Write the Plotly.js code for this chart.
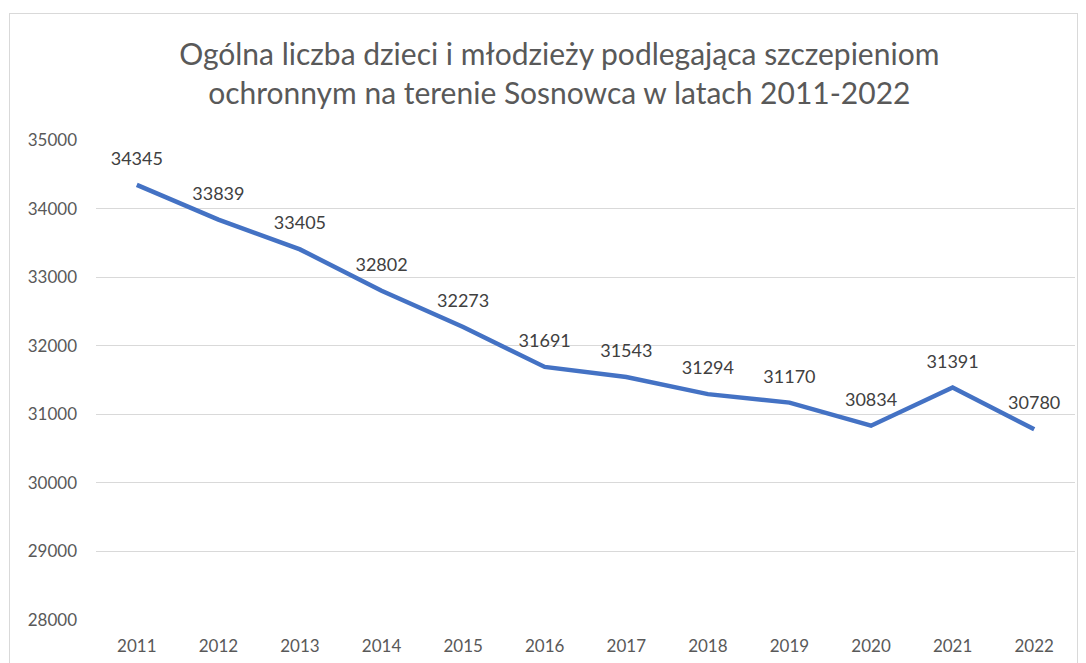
<!DOCTYPE html>
<html><head><meta charset="utf-8">
<script src="https://cdn.plot.ly/plotly-3.0.1.min.js"></script>
<style>html,body{margin:0;padding:0;background:#fff;}
#frame{position:absolute;left:9px;top:13px;width:1067px;height:700px;border:1px solid #d9d9d9;pointer-events:none;}
#chart{position:absolute;left:0;top:0;width:1086px;height:663px;}</style>
</head><body>
<div id="chart"></div><div id="frame"></div>
<script>
const years = ['2011','2012','2013','2014','2015','2016','2017','2018','2019','2020','2021','2022'];
const counts = [34345,33839,33405,32802,32273,31691,31543,31294,31170,30834,31391,30780];
const yTicks = [28000,29000,30000,31000,32000,33000,34000,35000];
const titleText = 'Ogólna liczba dzieci i młodzieży podlegająca szczepieniom<br>ochronnym na terenie Sosnowca w latach 2011-2022';
const F = 'Lato, "Open Sans", sans-serif';
Plotly.newPlot('chart', [{
  x: years, y: counts, type: 'scatter', mode: 'lines+markers+text',
  line: {color: '#4472C4', width: 4.5},
  marker: {size: 23, color: 'rgba(0,0,0,0)'},
  text: counts.map(String), textposition: 'top center',
  textfont: {family: F, size: 18, color: '#404040'},
  cliponaxis: false, hoverinfo: 'none'
}], {
  width: 1086, height: 663,
  margin: {l: 96, r: 11, t: 140, b: 43},
  paper_bgcolor: 'rgba(0,0,0,0)', plot_bgcolor: 'rgba(0,0,0,0)',
  showlegend: false,
  title: {text: titleText, font: {family: F, size: 30, color: '#595959'}, x: 0.515, xanchor: 'center', y: 0.902, yanchor: 'top'},
  xaxis: {type: 'category', range: [-0.5, 11.5], showgrid: false, zeroline: false, showline: false, ticks: '',
    tickfont: {family: F, size: 17, color: '#595959'}, ticklabelstandoff: 14},
  yaxis: {range: [28000, 35000], tickvals: yTicks, ticktext: yTicks.map(String), showgrid: true, gridcolor: '#d9d9d9', gridwidth: 1,
    zeroline: false, showline: false, ticks: '', tickfont: {family: F, size: 17, color: '#595959'}, ticklabelstandoff: 18}
}, {displayModeBar: false, staticPlot: true});
</script></body></html>
